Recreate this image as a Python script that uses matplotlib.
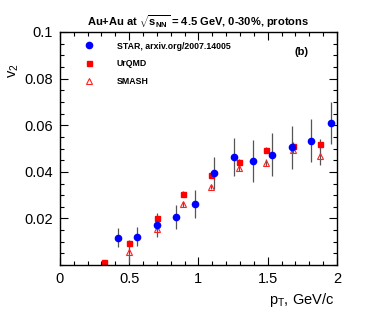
import numpy as np
import matplotlib
matplotlib.use('Agg')
import matplotlib.pyplot as plt
from matplotlib.ticker import MultipleLocator

plt.rcParams['font.family'] = ['Liberation Sans', 'DejaVu Sans']
plt.rcParams['mathtext.fontset'] = 'custom'
plt.rcParams['mathtext.rm'] = 'Liberation Sans'
plt.rcParams['mathtext.it'] = 'Liberation Sans'
plt.rcParams['mathtext.bf'] = 'Liberation Sans:bold'

# STAR data
star_pt = [0.42, 0.557, 0.70, 0.838, 0.975, 1.115, 1.257, 1.396, 1.533, 1.677, 1.812, 1.954]
star_v2 = [0.0118, 0.0122, 0.0172, 0.0206, 0.0260, 0.0395, 0.0463, 0.0446, 0.0473, 0.0506, 0.0534, 0.0609]
star_err = [0.0042, 0.0041, 0.0051, 0.0050, 0.0060, 0.0070, 0.0081, 0.0090, 0.0092, 0.0092, 0.0091, 0.0091]

# UrQMD
urqmd_pt = [0.32, 0.50, 0.70, 0.89, 1.09, 1.29, 1.49, 1.68, 1.88]
urqmd_v2 = [0.0014, 0.0095, 0.0203, 0.0307, 0.0386, 0.0443, 0.0494, 0.0511, 0.0520]
urqmd_err = [0.0003, 0.0006, 0.0008, 0.0009, 0.0010, 0.0012, 0.0014, 0.0018, 0.0020]

# SMASH
smash_pt = [0.50, 0.70, 0.89, 1.09, 1.29, 1.49, 1.68, 1.88]
smash_v2 = [0.0057, 0.0156, 0.0260, 0.0335, 0.0417, 0.0440, 0.0495, 0.0466]
smash_err = [0.0050, 0.0010, 0.0010, 0.0010, 0.0012, 0.0014, 0.0016, 0.0035]


def main():
    fig = plt.figure(figsize=(3.74, 3.16), dpi=100)
    ax = fig.add_axes([0.160, 0.161, 0.741, 0.738])

    ax.errorbar(smash_pt, smash_v2, yerr=smash_err, fmt='none', ecolor='#555555', elinewidth=0.9)
    ax.errorbar(urqmd_pt, urqmd_v2, yerr=urqmd_err, fmt='none', ecolor='#555555', elinewidth=0.9)
    ax.errorbar(star_pt, star_v2, yerr=star_err, fmt='none', ecolor='#555555', elinewidth=0.9)

    p3, = ax.plot(smash_pt, smash_v2, '^', ms=5, mfc='none', mec='#ff2020', mew=0.8, ls='none')
    p2, = ax.plot(urqmd_pt, urqmd_v2, 's', ms=3.6, color='#ff0000', ls='none')
    p1, = ax.plot(star_pt, star_v2, 'o', ms=4.5, color='#0000ff', ls='none')

    ax.set_xlim(0, 2)
    ax.set_ylim(0, 0.1)
    ax.xaxis.set_major_locator(MultipleLocator(0.5))
    ax.xaxis.set_minor_locator(MultipleLocator(0.1))
    ax.yaxis.set_major_locator(MultipleLocator(0.02))
    ax.yaxis.set_minor_locator(MultipleLocator(0.005))
    ax.set_xticks([0, 0.5, 1, 1.5, 2])
    ax.set_xticklabels(['0', '0.5', '1', '1.5', '2'])
    ax.set_yticks([0.02, 0.04, 0.06, 0.08, 0.1])
    ax.set_yticklabels(['0.02', '0.04', '0.06', '0.08', '0.1'])
    ax.tick_params(which='both', direction='in', top=True, right=True, labelsize=10.5)
    ax.tick_params(which='major', length=5.5, width=0.8, pad=5)
    ax.tick_params(which='minor', length=3, width=0.8)
    for s in ax.spines.values():
        s.set_linewidth(1.0)

    ax.legend([p1, p2, p3], ['STAR, arxiv.org/2007.14005', 'UrQMD', 'SMASH'],
              loc='upper left', bbox_to_anchor=(0.05, 0.985), frameon=False,
              prop={'weight': 'bold', 'size': 6.3}, handletextpad=2.2,
              labelspacing=1.0, borderaxespad=0.3)
    ax.text(0.873, 0.914, '(b)', transform=ax.transAxes, fontsize=8, fontweight='bold',
            ha='center', va='center')

    fig.text(0.53, 0.905, r'Au+Au at $\mathbf{\sqrt{s_{NN}}}$ = 4.5 GeV, 0-30%, protons',
             ha='center', va='bottom', fontsize=8, fontweight='bold')
    fig.text(0.893, 0.022, r'p$_{\mathrm{T}}$, GeV/c', ha='right', va='bottom', fontsize=10.5)
    fig.text(0.038, 0.775, r'v$_{\mathrm{2}}$', ha='center', va='center', fontsize=10.5, rotation=90)

    plt.savefig('out.png', dpi=100)


if __name__ == '__main__':
    main()
